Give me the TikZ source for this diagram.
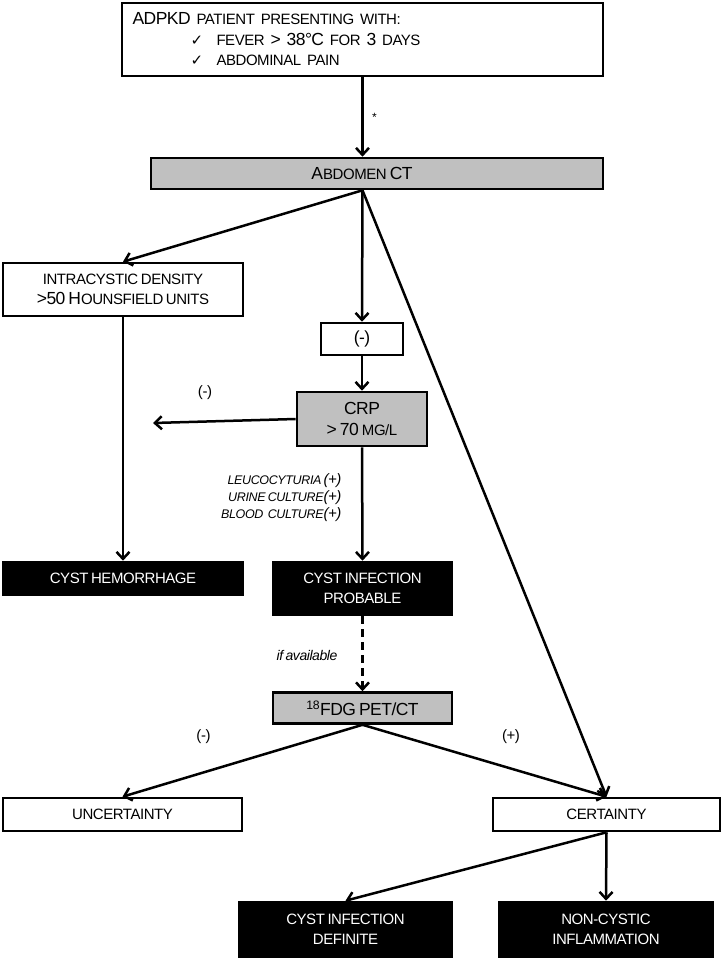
\documentclass[tikz,border=0pt]{standalone}
\usepackage{fontspec}
\setmainfont{Liberation Sans}[LetterSpace=-3,WordSpace=0.7]
\newfontfamily\symfont{DejaVu Sans}
\usetikzlibrary{arrows.meta,positioning}
\definecolor{BoxGrey}{HTML}{C0C0C0}
\newcommand{\lo}[1]{{\fontsize{15}{17}\selectfont #1}}

\begin{document}
\begin{tikzpicture}[x=1pt,y=-1pt,
    font=\fontsize{17.5}{20.5}\selectfont,
    whitebox/.style={draw=black,line width=2.6pt,fill=white,align=center,inner sep=2pt},
    greybox/.style={whitebox,fill=BoxGrey},
    blackbox/.style={whitebox,fill=black,text=white},
    flow/.style={line width=2.5pt,-{Straight Barb[length=7pt,width=13pt]}},
    note/.style={font=\fontsize{15}{17}\selectfont},
    crit/.style={font=\fontsize{12.5}{17}\selectfont\itshape,align=right}]
  \useasboundingbox (0,0) rectangle (722,960);
  % boxes
  \node[whitebox,minimum width=481,minimum height=73,text width=460,align=left]
    (patient) at (362.5,39.5)
    {ADPKD \lo{PATIENT PRESENTING WITH:}\\
     \hspace*{58pt}\makebox[26pt][l]{\symfont\fontsize{15}{15}\selectfont ✓}\lo{FEVER} > 38°C \lo{FOR} 3 \lo{DAYS}\\
     \hspace*{58pt}\makebox[26pt][l]{\symfont\fontsize{15}{15}\selectfont ✓}\lo{ABDOMINAL PAIN}};
  \node[greybox,minimum width=452,minimum height=31] (abd) at (377,173.5)
    {A\lo{BDOMEN} CT\hspace*{30pt}};
  \node[whitebox,minimum width=240,minimum height=53] (intra) at (123,289.5)
    {\lo{INTRACYSTIC DENSITY}\\>50 H\lo{OUNSFIELD UNITS}};
  \node[whitebox,minimum width=82,minimum height=32] (neg) at (362,339) {(-)};
  \node[greybox,minimum width=130,minimum height=54] (crp) at (362,419)
    {CRP\\> 70 \lo{MG/L}};
  \node[blackbox,minimum width=240,minimum height=33] (hem) at (123,578.5)
    {\lo{CYST HEMORRHAGE}};
  \node[blackbox,minimum width=179,minimum height=53] (prob) at (362.5,588.5)
    {\lo{CYST INFECTION}\\\lo{PROBABLE}};
  \node[greybox,minimum width=179,minimum height=31] (fdg) at (362.5,708)
    {\textsuperscript{18}FDG PET/CT};
  \node[whitebox,minimum width=239,minimum height=33] (unc) at (122.5,814.5)
    {\lo{UNCERTAINTY}};
  \node[whitebox,minimum width=227,minimum height=33] (cert) at (606.5,814.5)
    {\lo{CERTAINTY}};
  \node[blackbox,minimum width=213,minimum height=55] (defi) at (345.5,929.5)
    {\lo{CYST INFECTION}\\\lo{DEFINITE}};
  \node[blackbox,minimum width=214,minimum height=55] (noncyst) at (606,929.5)
    {\lo{NON-CYSTIC}\\\lo{INFLAMMATION}};
  % connectors
  \coordinate (abdfoot) at (abd.south -| patient.south);
  \coordinate (crpend) at (153,423);
  \draw[flow] (patient.south) -- (patient.south |- abd.north)
    node[midway,right=5pt,font=\fontsize{12}{14}\selectfont] (star) {*};
  \draw[flow] (abdfoot) -- (intra.north);
  \draw[flow] (abdfoot) -- (neg.north);
  \draw[flow] (abdfoot) -- (cert.north);
  \draw[flow] (intra.south) -- (hem.north);
  \draw[flow] (neg.south) -- (crp.north);
  \draw[flow] (crp.west) -- (crpend);
  \draw[flow] (crp.south) -- (prob.north);
  \draw[flow,dashed,dash pattern=on 8pt off 5pt] (prob.south) -- (fdg.north);
  \draw[flow] (fdg.south) -- (unc.north);
  \draw[flow] (fdg.south) -- (cert.north);
  \draw[flow] (cert.south) -- (defi.north);
  \draw[flow] (cert.south) -- (noncyst.north);
  % labels
  \node[note] (crpneg) at (205,393) {(-)};
  \node[crit,anchor=east] (tests) at (345,498)
    {LEUCOCYTURIA \lo{(+)}\\URINE CULTURE\lo{(+)}\\BLOOD\ \ CULTURE\lo{(+)}};
  \node[font=\fontsize{14}{16}\selectfont\itshape] (avail) at (307,655) {if available};
  \node[note] (fdgneg) at (203.5,737) {(-)};
  \node[note] (fdgpos) at (511,737) {(+)};
\end{tikzpicture}
\end{document}
